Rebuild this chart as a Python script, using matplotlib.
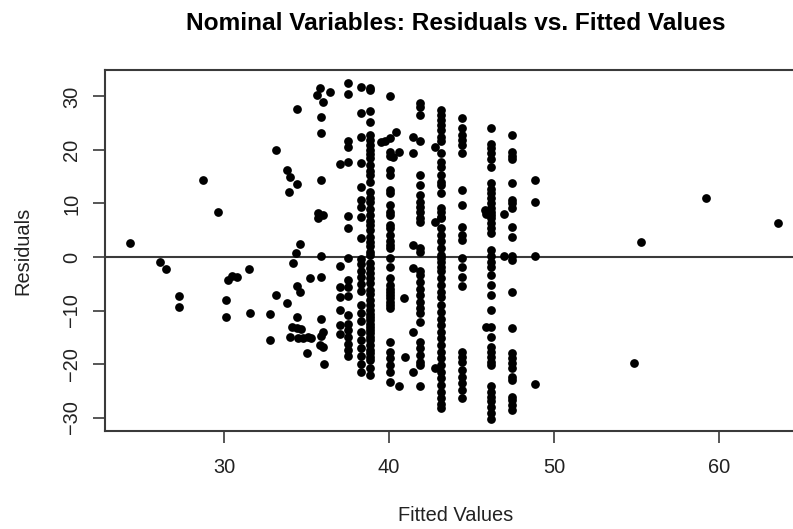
import numpy as np
import matplotlib
matplotlib.use("Agg")
import matplotlib.pyplot as plt

plt.rcParams['font.family'] = ['Liberation Sans', 'DejaVu Sans']

# scattered points (fitted, residual) away from the dense columns
sparse_fit = [24.32, 26.1, 26.5, 27.3, 27.3, 28.75, 29.65, 30.1, 30.1, 30.26,
              30.5, 30.8, 31.5, 31.55, 32.8, 32.8, 33.15, 33.15, 33.8, 34.0,
              34.45, 33.96, 33.84, 34.45, 34.6, 34.36, 34.2, 35.2, 34.45, 34.6,
              34.45, 34.1, 34.4, 34.65, 34.0, 34.5, 34.8, 35.1, 35.25, 35.0,
              35.8, 35.65, 36.4, 36.0, 35.86, 35.86, 35.86, 35.7, 36.0, 35.7,
              35.86, 35.86, 35.86, 36.0, 35.86, 35.8, 36.0, 36.06,
              39.5, 39.75, 40.45, 40.6, 40.25, 40.9, 40.95, 40.6,
              42.8, 42.8, 42.8, 45.8, 45.85, 45.9, 46.95, 46.95,
              54.87, 55.24, 59.19, 63.56]
sparse_res = [2.55, -0.9, -2.3, -7.3, -9.3, 14.4, 8.35, -8.0, -11.2, -4.3,
              -3.55, -3.8, -2.3, -10.4, -10.65, -15.6, 20.0, -7.1, 16.3, 15.0,
              13.6, 12.15, -8.65, 27.7, 2.4, 0.75, -1.2, -4.0, -5.4, -6.5,
              -11.3, -13.0, -13.3, -13.5, -14.9, -15.2, -15.2, -14.9, -15.1, -17.9,
              31.5, 30.3, 30.8, 28.9, 26.2, 23.1, 14.3, 8.2, 7.85, 7.35,
              0.25, -3.7, -11.6, -14.0, -14.7, -16.4, -16.8, -20.0,
              21.5, 21.7, 23.4, 19.6, 18.6, -7.6, -18.6, -24.2,
              20.6, 6.6, -20.8, 8.8, 8.0, -13.0, 8.0, 0.1,
              -19.75, 2.86, 10.97, 6.4]

# columns of residuals sharing one fitted value
col_fit = [37.0, 37.5, 38.3, 38.85, 40.05, 41.45, 41.85, 43.15, 44.4, 46.15, 47.45, 48.87]
res_370 = [17.4, -1.6, -5.7, -7.4, -9.9, -12.8, -14.3]
res_375 = [32.6, 30.5, 21.6, 20.6, 17.7, 7.7, 5.5, -0.2, -4.3, -5.6, -7.3,
           -10.8, -12.5, -13.7, -15.0, -16.3, -17.4, -18.5]
res_383 = [31.8, 26.9, 22.5, 17.5, 13.1, 10.7, 9.4, 7.5, 3.5, -0.3, -1.3,
           -2.6, -3.8, -5.1, -6.3, -9.0, -10.5, -12.0, -14.0, -15.5, -17.0,
           -18.5, -20.0, -21.5]
res_389 = [31.5, 31.2, 27.2, 25.3, 22.8, 21.9, 21.0, 20.0, 19.3, 18.5, 17.2,
           16.0, 15.3, 14.0, 12.2, 11.0, 10.2, 9.0, 7.9, 6.8, 6.0, 5.0, 3.8,
           2.8, 2.0, 1.0, 0.4, -1.1, -2.0, -3.0, -4.0, -4.9, -6.1, -7.0, -8.0,
           -9.0, -9.9, -10.6, -11.2, -11.8, -12.5, -13.0, -13.6, -14.2, -14.9,
           -15.6, -16.4, -17.4, -18.0, -18.6, -19.2, -20.8, -22.0]
res_400 = [30.0, 22.2, 19.7, 18.9, 16.3, 15.3, 12.5, 11.9, 9.7, 8.5, 7.85,
           6.0, 5.4, 4.1, 2.9, 2.2, 1.6, -0.25, -1.8, -4.0, -5.2, -5.9, -6.5,
           -7.1, -7.7, -8.35, -9.0, -9.6, -15.8, -17.7, -18.9, -20.2, -21.4, -23.3]
res_414 = [22.5, 19.4, 2.2, -2.1, -14.0, -21.4]
res_418 = [28.7, 28.1, 26.5, 21.6, 15.3, 13.5, 11.6, 10.3, 9.4, 8.5, 7.2,
           6.6, 1.6, 1.0, -2.7, -3.4, -4.6, -5.9, -7.1, -8.35, -9.6, -10.5,
           -12.1, -15.8, -17.1, -18.3, -19.6, -20.2, -24.2]
res_431 = [27.5, 26.5, 25.6, 24.7, 23.7, 22.5, 21.6, 19.4, 17.8, 16.9, 15.3,
           14.1, 13.5, 11.9, 9.1, 8.5, 7.5, 7.2, 5.4, 4.1, 2.9, 1.6, 0.4,
           -0.25, -0.9, -1.8, -2.7, -4.0, -5.2, -6.5, -7.4, -9.0, -10.2, -11.5,
           -12.7, -14.0, -15.2, -16.4, -17.7, -18.9, -20.2, -21.4, -22.7,
           -23.9, -25.2, -26.4, -27.4, -28.2]
res_444 = [25.9, 24.1, 22.8, 21.9, 20.9, 19.4, 12.5, 9.7, 5.7, 4.1, 3.2,
           -0.25, -1.8, -3.7, -5.5, -17.7, -18.6, -19.6, -21.1, -22.4, -23.6,
           -24.9, -26.4]
res_462 = [24.1, 21.2, 20.3, 19.4, 18.4, 16.9, 13.8, 12.8, 11.9, 11.0, 10.0,
           9.1, 8.5, 7.85, 7.2, 6.3, 5.4, 4.4, 1.3, 0.1, -0.9, -1.8, -3.4,
           -5.2, -7.1, -9.9, -13.0, -14.9, -16.8, -17.7, -18.6, -19.6, -20.2,
           -24.2, -25.2, -26.1, -27.0, -28.0, -29.2, -30.3]
res_475 = [22.8, 19.7, 18.9, 18.4, 13.8, 10.65, 10.0, 9.1, 5.7, 3.8, 0.1,
           -0.6, -6.5, -13.3, -18.0, -18.9, -19.9, -20.8, -22.4, -23.0, -26.1,
           -26.7, -27.7, -28.6]
res_489 = [14.4, 10.2, 0.25, -23.7]

col_res = [res_370, res_375, res_383, res_389, res_400, res_414, res_418,
           res_431, res_444, res_462, res_475, res_489]

fitted = list(sparse_fit)
resid = list(sparse_res)
for fv, rs in zip(col_fit, col_res):
    fitted.extend([fv] * len(rs))
    resid.extend(rs)
fitted = np.array(fitted)
resid = np.array(resid)

W, H = 793, 529
fig = plt.figure(figsize=(W / 100, H / 100), dpi=100)
# plot region: left 104.9px, top 70px, bottom 431px; right edge falls off the canvas
ax = fig.add_axes([104.9 / W, 1 - 431 / H, 700.8 / W, 361 / H])

ax.plot(fitted, resid, 'o', color='black', markersize=6.3, markeredgewidth=0)
ax.axhline(0, color='#3a3a3a', lw=1.5, zorder=0)

ax.set_xlim(22.78, 65.25)
ax.set_ylim(-32.52, 34.95)
ax.set_xticks([30, 40, 50, 60])
ax.set_yticks([-30, -20, -10, 0, 10, 20, 30])

for s in ax.spines.values():
    s.set_color('#3a3a3a')
    s.set_linewidth(1.5)

ax.tick_params(direction='out', length=8.6, width=1.2, color='#3a3a3a',
               labelsize=14.4, labelcolor='#222222')
ax.tick_params(axis='x', pad=10.8)
ax.tick_params(axis='y', pad=8.6)
for lbl in ax.get_yticklabels():
    lbl.set_rotation(90)
    lbl.set_va('center')

ax.set_title("Nominal Variables: Residuals vs. Fitted Values",
             fontsize=17.6, fontweight='bold', pad=28.8)
ax.set_xlabel("Fitted Values", fontsize=14.4, color='#222222')
ax.set_ylabel("Residuals", fontsize=14.4, color='#222222')
ax.xaxis.set_label_coords(0.5, -0.208)
ax.yaxis.set_label_coords(-0.104, 0.5)

fig.savefig("out.png", dpi=100)
